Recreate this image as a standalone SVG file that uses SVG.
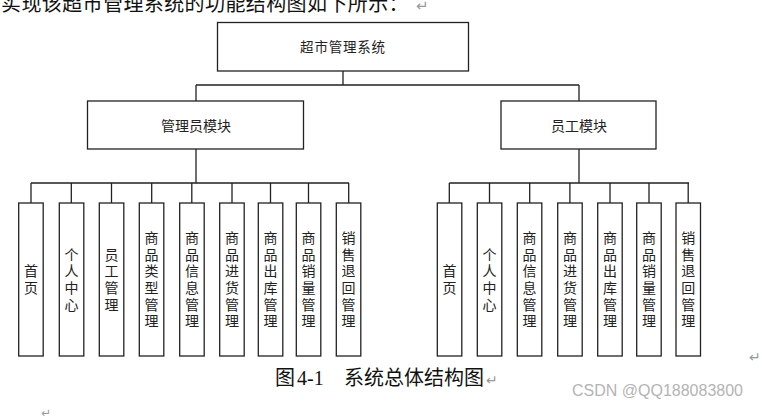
<svg xmlns="http://www.w3.org/2000/svg" width="762" height="420" viewBox="0 0 762 420">
<style>
.box{fill:#fff;stroke:#222;stroke-width:1.3}
.ln{fill:none;stroke:#222;stroke-width:1.3}
.t{font-family:"Noto Sans CJK SC",sans-serif;fill:#222;text-anchor:middle}
.lt{font-family:"Noto Sans CJK SC",sans-serif;font-size:14px;fill:#222;text-anchor:middle}
.doc{font-family:"Liberation Serif","Noto Sans CJK SC",serif;fill:#111;font-size:20px}
.rt{font-family:"DejaVu Sans",sans-serif;fill:#999}
</style>
<rect width="762" height="420" fill="#fff"/>
<text class="doc" x="1" y="11" letter-spacing="0.4">实现该超市管理系统的功能结构图如下所示：<tspan class="rt" font-size="15" x="416">↵</tspan></text>

<g id="connectors">
<path class="ln" d="M343,71V85M196,85H579M196,85V101M579,85V101"/>
<path class="ln" d="M196,149V183M31,183H349M31,183V203M71.3,183V203M111.5,183V203M151.7,183V203M191.8,183V203M232,183V203M270.5,183V203M308.5,183V203M348.7,183V203"/>
<path class="ln" d="M579,149V183M449.3,183H689M449.3,183V203M489.5,183V203M529.7,183V203M569.9,183V203M610,183V203M649,183V203M688.2,183V203"/>
</g>

<g id="root"><rect class="box" x="217.5" y="22.5" width="251" height="48.5"/><text class="t" x="343" y="52" font-size="13.5" letter-spacing="0.8">超市管理系统</text></g>
<g id="admin"><rect class="box" x="87.5" y="101" width="216" height="48"/><text class="t" x="196" y="131" font-size="14">管理员模块</text></g>
<g id="staff"><rect class="box" x="501" y="101" width="155" height="48"/><text class="t" x="579" y="131" font-size="14">员工模块</text></g>

<g id="a1"><rect class="box" x="18.7" y="203" width="24.5" height="153"/><text class="lt"><tspan x="31" y="276.2">首</tspan><tspan x="31" dy="16.7">页</tspan></text></g>
<g id="a2"><rect class="box" x="59.3" y="203" width="24.5" height="153"/><text class="lt"><tspan x="71.5" y="259.5">个</tspan><tspan x="71.5" dy="16.7">人</tspan><tspan x="71.5" dy="16.7">中</tspan><tspan x="71.5" dy="16.7">心</tspan></text></g>
<g id="a3"><rect class="box" x="99.3" y="203" width="24.5" height="153"/><text class="lt"><tspan x="111.5" y="259.5">员</tspan><tspan x="111.5" dy="16.7">工</tspan><tspan x="111.5" dy="16.7">管</tspan><tspan x="111.5" dy="16.7">理</tspan></text></g>
<g id="a4"><rect class="box" x="139.3" y="203" width="24.5" height="153"/><text class="lt"><tspan x="151.6" y="242.8">商</tspan><tspan x="151.6" dy="16.7">品</tspan><tspan x="151.6" dy="16.7">类</tspan><tspan x="151.6" dy="16.7">型</tspan><tspan x="151.6" dy="16.7">管</tspan><tspan x="151.6" dy="16.7">理</tspan></text></g>
<g id="a5"><rect class="box" x="179.7" y="203" width="24.5" height="153"/><text class="lt"><tspan x="192" y="242.8">商</tspan><tspan x="192" dy="16.7">品</tspan><tspan x="192" dy="16.7">信</tspan><tspan x="192" dy="16.7">息</tspan><tspan x="192" dy="16.7">管</tspan><tspan x="192" dy="16.7">理</tspan></text></g>
<g id="a6"><rect class="box" x="219.7" y="203" width="24.5" height="153"/><text class="lt"><tspan x="232" y="242.8">商</tspan><tspan x="232" dy="16.7">品</tspan><tspan x="232" dy="16.7">进</tspan><tspan x="232" dy="16.7">货</tspan><tspan x="232" dy="16.7">管</tspan><tspan x="232" dy="16.7">理</tspan></text></g>
<g id="a7"><rect class="box" x="258.3" y="203" width="24.5" height="153"/><text class="lt"><tspan x="270.5" y="242.8">商</tspan><tspan x="270.5" dy="16.7">品</tspan><tspan x="270.5" dy="16.7">出</tspan><tspan x="270.5" dy="16.7">库</tspan><tspan x="270.5" dy="16.7">管</tspan><tspan x="270.5" dy="16.7">理</tspan></text></g>
<g id="a8"><rect class="box" x="296.3" y="203" width="24.5" height="153"/><text class="lt"><tspan x="308.5" y="242.8">商</tspan><tspan x="308.5" dy="16.7">品</tspan><tspan x="308.5" dy="16.7">销</tspan><tspan x="308.5" dy="16.7">量</tspan><tspan x="308.5" dy="16.7">管</tspan><tspan x="308.5" dy="16.7">理</tspan></text></g>
<g id="a9"><rect class="box" x="336.3" y="203" width="24.5" height="153"/><text class="lt"><tspan x="348.6" y="242.8">销</tspan><tspan x="348.6" dy="16.7">售</tspan><tspan x="348.6" dy="16.7">退</tspan><tspan x="348.6" dy="16.7">回</tspan><tspan x="348.6" dy="16.7">管</tspan><tspan x="348.6" dy="16.7">理</tspan></text></g>

<g id="s1"><rect class="box" x="437.3" y="203" width="24.5" height="153"/><text class="lt"><tspan x="449.5" y="276.2">首</tspan><tspan x="449.5" dy="16.7">页</tspan></text></g>
<g id="s2"><rect class="box" x="477.3" y="203" width="24.5" height="153"/><text class="lt"><tspan x="489.5" y="259.5">个</tspan><tspan x="489.5" dy="16.7">人</tspan><tspan x="489.5" dy="16.7">中</tspan><tspan x="489.5" dy="16.7">心</tspan></text></g>
<g id="s3"><rect class="box" x="517.3" y="203" width="24.5" height="153"/><text class="lt"><tspan x="529.6" y="242.8">商</tspan><tspan x="529.6" dy="16.7">品</tspan><tspan x="529.6" dy="16.7">信</tspan><tspan x="529.6" dy="16.7">息</tspan><tspan x="529.6" dy="16.7">管</tspan><tspan x="529.6" dy="16.7">理</tspan></text></g>
<g id="s4"><rect class="box" x="557.7" y="203" width="24.5" height="153"/><text class="lt"><tspan x="570" y="242.8">商</tspan><tspan x="570" dy="16.7">品</tspan><tspan x="570" dy="16.7">进</tspan><tspan x="570" dy="16.7">货</tspan><tspan x="570" dy="16.7">管</tspan><tspan x="570" dy="16.7">理</tspan></text></g>
<g id="s5"><rect class="box" x="597.7" y="203" width="24.5" height="153"/><text class="lt"><tspan x="610" y="242.8">商</tspan><tspan x="610" dy="16.7">品</tspan><tspan x="610" dy="16.7">出</tspan><tspan x="610" dy="16.7">库</tspan><tspan x="610" dy="16.7">管</tspan><tspan x="610" dy="16.7">理</tspan></text></g>
<g id="s6"><rect class="box" x="636.7" y="203" width="24.5" height="153"/><text class="lt"><tspan x="649" y="242.8">商</tspan><tspan x="649" dy="16.7">品</tspan><tspan x="649" dy="16.7">销</tspan><tspan x="649" dy="16.7">量</tspan><tspan x="649" dy="16.7">管</tspan><tspan x="649" dy="16.7">理</tspan></text></g>
<g id="s7"><rect class="box" x="676" y="203" width="24.5" height="153"/><text class="lt"><tspan x="688.2" y="242.8">销</tspan><tspan x="688.2" dy="16.7">售</tspan><tspan x="688.2" dy="16.7">退</tspan><tspan x="688.2" dy="16.7">回</tspan><tspan x="688.2" dy="16.7">管</tspan><tspan x="688.2" dy="16.7">理</tspan></text></g>

<text class="rt" x="749" y="362" font-size="14">↵</text>
<text class="doc" x="275" y="385">图<tspan x="297">4-1</tspan><tspan x="344">系统总体结构图</tspan><tspan class="rt" font-size="14" x="486">↵</tspan></text>
<text class="rt" x="41" y="417" font-size="12">↵</text>
<text x="572" y="396" font-family="Liberation Sans,sans-serif" font-size="16" fill="#b4b4b4">CSDN @QQ188083800</text>
</svg>
